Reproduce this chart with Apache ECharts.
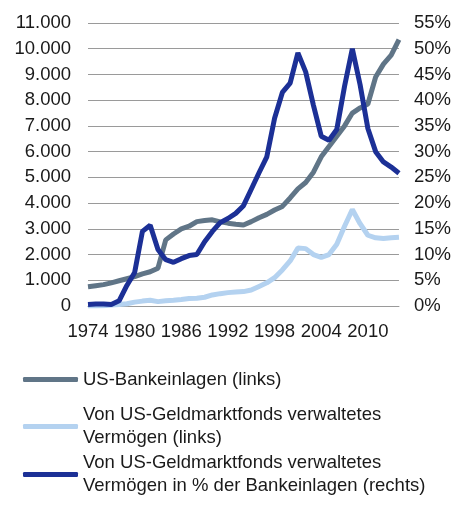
<!DOCTYPE html>
<html>
<head>
<meta charset="utf-8">
<script src="https://cdn.jsdelivr.net/npm/echarts@6/dist/echarts.min.js"></script>
<style>
  html, body { margin: 0; padding: 0; background: #fff; }
  #main { width: 454px; height: 506px; }
</style>
</head>
<body>
<div id="main"></div>
<script>
// Jahre
const years = ['1974','1975','1976','1977','1978','1979','1980','1981','1982','1983',
  '1984','1985','1986','1987','1988','1989','1990','1991','1992','1993',
  '1994','1995','1996','1997','1998','1999','2000','2001','2002','2003',
  '2004','2005','2006','2007','2008','2009','2010','2011','2012','2013','2014'];

// US-Bankeinlagen (links), Mrd. USD
const bankeinlagen = [750, 790, 830, 900, 980, 1060, 1140, 1250, 1330, 1470,
  2570, 2800, 3000, 3100, 3280, 3320, 3350, 3270, 3220, 3180,
  3150, 3280, 3430, 3560, 3730, 3870, 4200, 4550, 4800, 5200,
  5800, 6200, 6600, 7000, 7500, 7700, 7850, 8900, 9400, 9750, 10350];

// Von US-Geldmarktfonds verwaltetes Vermögen (links)
const gmfVermoegen = [0, 0, 10, 40, 60, 90, 150, 190, 220, 170,
  200, 220, 250, 290, 300, 340, 430, 480, 520, 540,
  560, 620, 760, 900, 1100, 1400, 1750, 2250, 2230, 2000,
  1890, 2000, 2400, 3100, 3750, 3200, 2750, 2650, 2620, 2650, 2670];

// ... in % der Bankeinlagen (rechts)
const gmfAnteil = [0.3, 0.4, 0.4, 0.3, 1.0, 4.0, 6.5, 14.5, 15.7, 11.0,
  9.0, 8.5, 9.2, 9.8, 10.0, 12.5, 14.5, 16.2, 17.0, 18.0,
  19.5, 22.7, 25.9, 29.0, 36.5, 41.5, 43.3, 49.2, 45.5, 39.0,
  33.0, 32.2, 34.3, 42.7, 50.0, 43.0, 34.5, 30.0, 28.0, 27.0, 25.8];

const names = [
  'US-Bankeinlagen (links)',
  'Von US-Geldmarktfonds verwaltetes\nVermögen (links)',
  'Von US-Geldmarktfonds verwaltetes\nVermögen in % der Bankeinlagen (rechts)'
];
const colors = ['#607587', '#b4d2f0', '#1c3096'];

const chart = echarts.init(document.getElementById('main'));

const labelFont = { fontFamily: 'Liberation Sans, Arial, sans-serif', fontSize: 18.5, color: '#1a1a1a' };

function legendAt(name, top, twoLines) {
  return {
    data: [name],
    left: 23,
    top: top,
    padding: 0,
    icon: 'roundRect',
    itemWidth: 55,
    itemHeight: 5,
    itemGap: 0,
    selectedMode: false,
    textStyle: Object.assign({}, labelFont, {
      lineHeight: 23,
      padding: twoLines ? [23, 0, 0, 0] : 0
    })
  };
}

const option = {
  animation: false,
  color: colors,
  grid: { left: 88, right: 54, top: 23, bottom: 200 },
  legend: [
    legendAt(names[0], 368, false),
    legendAt(names[1], 392, true),
    legendAt(names[2], 440, true)
  ],
  xAxis: {
    type: 'category',
    data: years,
    boundaryGap: false,
    axisLine: { lineStyle: { color: '#9a9a9a', width: 1 } },
    axisTick: { show: false },
    axisLabel: Object.assign({}, labelFont, { interval: 5, margin: 16 })
  },
  yAxis: [
    {
      type: 'value',
      min: 0,
      max: 11000,
      interval: 1000,
      axisLine: { show: false },
      axisTick: { show: false },
      splitLine: { lineStyle: { color: '#9a9a9a', width: 1 } },
      axisLabel: Object.assign({}, labelFont, {
        margin: 17,
        formatter: v => String(v).replace(/\B(?=(\d{3})+(?!\d))/g, '.')
      })
    },
    {
      type: 'value',
      min: 0,
      max: 55,
      interval: 5,
      axisLine: { show: false },
      axisTick: { show: false },
      splitLine: { show: false },
      axisLabel: Object.assign({}, labelFont, { margin: 15, formatter: '{value}%' })
    }
  ],
  series: [
    {
      name: names[0], type: 'line', data: bankeinlagen, yAxisIndex: 0,
      showSymbol: false, lineStyle: { width: 5, color: colors[0] }
    },
    {
      name: names[1], type: 'line', data: gmfVermoegen, yAxisIndex: 0,
      showSymbol: false, lineStyle: { width: 5, color: colors[1] }
    },
    {
      name: names[2], type: 'line', data: gmfAnteil, yAxisIndex: 1,
      showSymbol: false, lineStyle: { width: 5, color: colors[2] }
    }
  ]
};

option && chart.setOption(option);
</script>
</body>
</html>
